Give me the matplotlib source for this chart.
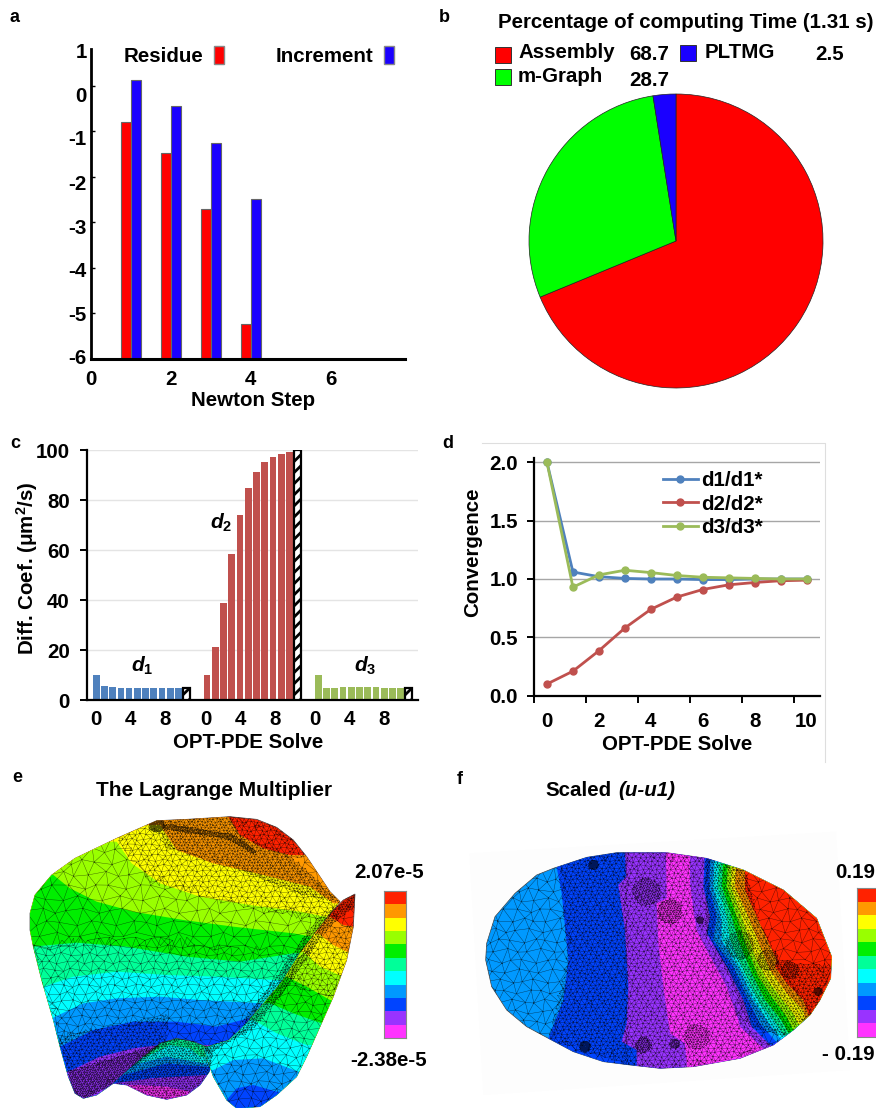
import numpy as np
import matplotlib
matplotlib.use("Agg")
import matplotlib.pyplot as plt
from matplotlib.patches import Polygon, Patch, Rectangle
from matplotlib.path import Path
from matplotlib.colors import ListedColormap
from matplotlib.lines import Line2D
from matplotlib.transforms import ScaledTranslation
import matplotlib.tri as mtri

FS = 14.8
plt.rcParams.update({
    "font.family": ["Liberation Sans", "DejaVu Sans"], "font.weight": "bold", "font.size": FS,
    "axes.labelweight": "bold", "mathtext.fontset": "custom", "axes.unicode_minus": False,
    "mathtext.rm": "Liberation Sans:bold", "mathtext.it": "Liberation Sans:italic:bold",
    "mathtext.bf": "Liberation Sans:bold", "mathtext.default": "rm", "hatch.linewidth": 2.0,
})

# ---------- panel a
newton_steps = [1, 2, 3, 4]
residue = [-0.79, -1.48, -2.71, -5.22]
increment = [0.14, -0.43, -1.26, -2.49]
a_yticks = [-6, -5, -4, -3, -2, -1, 0, 1]
a_xticks = [0, 2, 4, 6]
# ---------- panel b
pie_names = ["Assembly", "m-Graph", "PLTMG"]
pie_values = [68.7, 28.7, 2.5]
pie_colors = ["#ff0000", "#00ff00", "#1a00ff"]
# ---------- panel c
d1_bars = [10, 5.5, 5.1, 5, 5, 5, 5, 5, 5, 5, 5]
d2_bars = [10, 21.3, 38.9, 58.4, 74, 84.7, 91.2, 95.2, 97.2, 98.5, 99.3]
d3_bars = [10, 4.7, 5.0, 5.3, 5.3, 5.1, 5.1, 5.05, 5, 5, 5]
hatched_bars = [5, 100, 5]
c_ticklabels = [0, 4, 8]
# ---------- panel d
solve = list(range(11))
d1_ratio = [2.0, 1.06, 1.02, 1.005, 1.0, 1.0, 0.995, 0.995, 1.0, 1.0, 1.0]
d2_ratio = [0.1, 0.21, 0.385, 0.58, 0.74, 0.845, 0.91, 0.95, 0.97, 0.985, 0.99]
d3_ratio = [2.0, 0.93, 1.035, 1.075, 1.055, 1.03, 1.015, 1.01, 1.005, 1.0, 1.0]
# ---------- panels e, f: the colour scale
scale_colors = ["#ff2200", "#ff9900", "#ffff00", "#99ff00", "#00ee00", "#00ff99",
                "#00ffff", "#0099ff", "#0044ff", "#9933ff", "#ff33ff"]

W, H = 876, 1108
fig = plt.figure(figsize=(W / 100, H / 100), dpi=100, facecolor="white")


def box(l, t, r, b, **kw):
    return fig.add_axes([l / W, 1 - b / H, (r - l) / W, (b - t) / H], **kw)


ov = fig.add_axes([0, 0, 1, 1], zorder=5)
ov.set_xlim(0, W)
ov.set_ylim(H, 0)
ov.axis("off")
ov.patch.set_alpha(0)
ov.set_autoscale_on(False)
PX = ov.transData


def put_label(axis, text, cx, cy, rotation=0):
    if rotation:
        axis.set_label_text(text, rotation=rotation, ha="center", va="center", fontsize=FS)
    else:
        axis.set_label_text(text, ha="center", va="center", fontsize=FS)
    axis.set_label_coords(cx, cy, transform=PX)


for s, x, y in [("a", 14, 18), ("b", 444, 17), ("c", 15, 444), ("d", 448, 443), ("e", 17, 777), ("f", 460, 779)]:
    ov.text(x, y, s, fontsize=13, ha="center", va="center")

# ---------- a
ax = box(91, 40.5, 405, 359)
ax.set_ylim(-6, 1)
ax.set_xlim(0, 7.86)
ax.patch.set_alpha(0)
ax.bar(np.array(newton_steps) - 0.125, np.array(residue) + 6, 0.25, bottom=-6, color="#ff0000", edgecolor="#666666", lw=0.8)
ax.bar(np.array(newton_steps) + 0.125, np.array(increment) + 6, 0.25, bottom=-6, color="#1a00ff", edgecolor="#666666", lw=0.8)
for s in ["top", "right"]:
    ax.spines[s].set_visible(False)
ax.spines["left"].set_linewidth(2)
ax.spines["left"].set_bounds(-6, 0.82)
ax.spines["bottom"].set_linewidth(2.2)
ax.set_xticks(a_xticks)
ax.set_yticks(a_yticks)
ax.tick_params(axis="y", direction="in", length=3, width=1, labelsize=FS, pad=3)
ax.tick_params(axis="x", length=0, labelsize=FS, pad=8)
ax.yaxis.get_major_ticks()[-1].tick1line.set_visible(False)
for lab, dy in zip(ax.get_yticklabels(), [-2, 0, 2, 4, 6, 6, 8, 10.5]):
    lab.set_transform(lab.get_transform() + ScaledTranslation(0, -dy / 100, fig.dpi_scale_trans))
put_label(ax.xaxis, "Newton Step", 253, 400)
ax.legend(handles=[Patch(fc="#ff0000", ec="#888888", label="Residue"), Patch(fc="#1a00ff", ec="#888888", label="Increment")],
          ncol=2, markerfirst=False, frameon=False, fontsize=FS, handlelength=0.5, handleheight=1.0,
          handletextpad=0.5, columnspacing=2.5, loc="center left", bbox_to_anchor=(124, 56), bbox_transform=PX,
          borderpad=0, borderaxespad=0)

# ---------- b
ax = box(529, 94, 823, 388)
ax.pie(pie_values, colors=pie_colors, startangle=90, counterclock=False, radius=1,
       wedgeprops=dict(edgecolor="#222222", linewidth=0.5))
ax.set_xlim(-1, 1)
ax.set_ylim(-1, 1)
ov.text(498, 23, "Percentage of computing Time (1.31 s)", fontsize=FS, va="center")
b_pos = [(495, 47, 518, 52, 629, 55), (495, 69, 518, 77, 629, 80), (680, 45, 705, 53, 815, 55)]
for name, val, col, (bx, by, tx, ty, vx, vy) in zip(pie_names, pie_values, pie_colors, b_pos):
    ov.add_patch(Rectangle((bx, by), 16, 15.5, fc=col, ec="#333333", lw=0.7))
    ov.text(tx, ty, name, fontsize=FS, va="center")
    ov.text(vx, vy, f"{val}", fontsize=FS, va="center")

# ---------- c
ax = box(87, 450, 418, 700)
unit = 8.23
ax.set_xlim((87 - 96.2) / unit, (418 - 96.2) / unit)
ax.set_ylim(0, 100)
ax.patch.set_alpha(0)
starts = [0, 13.47, 27]
tick_starts = [-0.06, 13.3, 26.6]
cols = ["#4f81bd", "#c0504d", "#9bbb59"]
ticks, labels = [], []
for st, ts, vals, hv, col in zip(starts, tick_starts, [d1_bars, d2_bars, d3_bars], hatched_bars, cols):
    ax.bar(st + np.arange(len(vals)), vals, 0.82, color=col, zorder=2)
    ax.bar(st + len(vals) - 0.02, hv, 0.84, color="white", edgecolor="black", hatch="///", lw=1.6, zorder=3)
    ticks += [ts + v * 1.048 for v in c_ticklabels]
    labels += [str(v) for v in c_ticklabels]
ax.set_xticks(ticks, labels)
ax.set_yticks(range(0, 101, 20))
ax.grid(axis="y", color="#e4e4e4", lw=1)
ax.set_axisbelow(True)
for s in ["top", "right"]:
    ax.spines[s].set_visible(False)
ax.spines["left"].set_linewidth(1.6)
ax.spines["bottom"].set_linewidth(1.6)
ax.tick_params(axis="x", length=0, labelsize=FS, pad=7)
ax.tick_params(axis="y", length=5, width=1.4, labelsize=FS, pad=7.5)
put_label(ax.xaxis, "OPT-PDE Solve", 248, 743)
put_label(ax.yaxis, "Diff. Coef. (μm$^{2}$/s)", 27, 568, rotation=90)
for s, x, y in [("1", 142, 666), ("2", 221, 523), ("3", 365, 666)]:
    ov.text(x, y, "$\\mathit{d}_{\\mathit{" + s + "}}$", fontsize=15, ha="center", va="center")

# ---------- d
fig.add_artist(Line2D([482 / W, 825 / W, 825 / W], [1 - 443 / H, 1 - 443 / H, 1 - 762 / H], color="#dedede", lw=0.8))
ax = box(534, 462.3 - 0.04 * 116.7, 819.5, 695.7)
ax.set_xlim(-0.5, 10.5)
ax.set_ylim(0, 2.04)
ax.patch.set_alpha(0)
for vals, col, name in zip([d1_ratio, d2_ratio, d3_ratio], cols, ["d1/d1*", "d2/d2*", "d3/d3*"]):
    ax.plot(solve, vals, color=col, lw=2, marker="o", ms=5, label=name, zorder=3, clip_on=False)
ax.set_yticks([0, 0.5, 1, 1.5, 2], ["0.0", "0.5", "1.0", "1.5", "2.0"])
ax.set_xticks(np.arange(-0.5, 10, 2))
ax.set_xticklabels([])
ax.set_xticks(solve[::2], [str(v) for v in solve[::2]], minor=True)
ax.tick_params(axis="x", which="major", length=5, width=1.4)
ax.tick_params(axis="x", which="minor", length=0, labelsize=FS, pad=12)
ax.tick_params(axis="y", length=5, width=1.4, labelsize=FS, pad=6.5)
ax.grid(axis="y", color="#a6a6a6", lw=1)
ax.set_axisbelow(True)
for s in ["top", "right"]:
    ax.spines[s].set_visible(False)
ax.spines["left"].set_linewidth(1.6)
ax.spines["bottom"].set_linewidth(1.6)
put_label(ax.xaxis, "OPT-PDE Solve", 677, 745)
put_label(ax.yaxis, "Convergence", 473, 552, rotation=90)
ax.legend(frameon=False, fontsize=FS, loc="center left", bbox_to_anchor=(663, 504), bbox_transform=PX,
          handlelength=1.7, handletextpad=0.15, labelspacing=0.22, borderpad=0, borderaxespad=0)


def conv(pts, ox):
    return np.asarray(pts, float) / 3 + [ox, 770]


def paint(outline, bounds, colors, ox, direction):
    out = Polygon(conv(outline, ox), closed=True, fc=colors[0], ec="#444444", lw=0.5, zorder=1)
    ov.add_patch(out)
    far = 5000
    for b, c in zip(bounds, colors[1:]):
        if direction == "down":
            poly = [(-far, b[0][1])] + list(b) + [(far, b[-1][1]), (far, far), (-far, far)]
        else:
            poly = [(b[0][0], -far)] + list(b) + [(b[-1][0], far), (far, far), (far, -far)]
        p = Polygon(conv(poly, ox), closed=True, fc=c, ec="none", zorder=1)
        ov.add_patch(p)
        p.set_clip_path(out)
    return out


def mesh(outline, zones, base_h, ox, clip, zorder=2):
    o = np.asarray(outline, float)
    x0, y0 = o.min(0) - 10
    x1, y1 = o.max(0) + 10
    taken = []
    for zone, h in list(zones) + [(None, base_h)]:
        ny = int((y1 - y0) / (0.87 * h)) + 2
        nx = int((x1 - x0) / h) + 2
        jj, ii = np.mgrid[0:ny, 0:nx]
        px = x0 + h * (ii + 0.5 * (jj % 2)) + 0.2 * h * np.sin(1.7 * ii + 2.3 * jj)
        py = y0 + 0.87 * h * jj + 0.2 * h * np.sin(2.1 * ii - 1.3 * jj + 1)
        idx = ii + jj * nx
        a, b, c, d = idx[:-1, :-1], idx[:-1, 1:], idx[1:, :-1], idx[1:, 1:]
        odd = (jj[:-1, :-1] % 2).astype(bool)
        t1 = np.stack([a, b, np.where(odd, d, c)], -1).reshape(-1, 3)
        t2 = np.stack([np.where(odd, a, b), d, c], -1).reshape(-1, 3)
        tris = np.vstack([t1, t2])
        pts = np.column_stack([px.ravel(), py.ravel()])
        cen = pts[tris].mean(1)
        keep = np.ones(len(tris), bool) if zone is None else zone.contains_points(cen)
        for t in taken:
            keep &= ~t.contains_points(cen)
        if zone is not None:
            taken.append(zone)
        if keep.any():
            q = conv(pts, ox)
            tr = mtri.Triangulation(q[:, 0], q[:, 1], tris[keep])
            for ln in ov.triplot(tr, color="black", lw=0.3, alpha=0.65, zorder=zorder):
                ln.set_clip_path(clip)


def P(*p):
    return Path(list(p) + [p[0]])


def C(x, y, r):
    return Path.circle((x, y), r)


def scale_bar(l, t, r, b):
    cb = box(l, t, r, b, zorder=3)
    cb.imshow(np.arange(11).reshape(-1, 1), cmap=ListedColormap(scale_colors), aspect="auto")
    cb.set_xticks([])
    cb.set_yticks([])
    for s in cb.spines.values():
        s.set_color("#888888")


# e -------------------------------------------------------------
main = [(90, 430), (105, 375), (155, 315), (225, 265), (350, 205), (470, 152), (560, 148), (690, 140), (770, 148),
        (830, 172), (880, 210), (920, 260), (960, 320), (990, 365), (1020, 395), (1000, 420), (960, 480), (900, 550),
        (850, 630), (790, 700), (740, 760), (680, 815), (630, 830), (580, 825), (530, 815), (480, 830), (430, 870),
        (390, 895), (340, 940), (290, 975), (250, 985), (225, 970), (205, 920), (180, 830), (160, 750), (125, 630),
        (100, 530), (90, 480)]
main_b = [
    [(685, 140), (720, 195), (790, 235), (870, 255), (925, 255)],
    [(480, 165), (530, 240), (640, 280), (770, 310), (930, 350), (1000, 400)],
    [(350, 215), (395, 280), (480, 340), (600, 380), (750, 405), (900, 425), (975, 440)],
    [(160, 315), (210, 355), (290, 395), (400, 425), (550, 450), (700, 470), (880, 490), (935, 500)],
    [(95, 530), (230, 518), (380, 530), (560, 560), (720, 575), (880, 550)],
    [(130, 650), (220, 620), (350, 605), (500, 615), (650, 620), (830, 630)],
    [(155, 745), (250, 700), (350, 685), (480, 680), (600, 690), (790, 700)],
    [(180, 830), (280, 780), (400, 755), (530, 755), (650, 770), (745, 745)],
    [(205, 905), (300, 860), (400, 835), (480, 825)],
]
clip = paint(main, main_b, scale_colors, 0, "down")
mesh(main, [
    (C(470, 165, 22), 4),
    (P((470, 160), (560, 172), (700, 195), (770, 245), (760, 250), (680, 205), (550, 185), (480, 175)), 5),
    (P((1000, 420), (1030, 395), (960, 500), (850, 640), (740, 770), (725, 760), (830, 620), (950, 450)), 9),
    (P((470, 150), (690, 135), (720, 200), (870, 260), (1020, 395), (900, 370), (700, 290), (500, 230)), 10),
    (P((690, 135), (830, 172), (925, 260), (870, 260), (720, 200)), 15),
    (P((350, 205), (470, 150), (500, 230), (700, 290), (1000, 400), (960, 450), (700, 400), (450, 330)), 18),
    (P((205, 905), (480, 825), (340, 940), (250, 990), (220, 975)), 6),
    (P((175, 800), (500, 740), (500, 830), (205, 915)), 12),
    (P((95, 530), (400, 500), (900, 560), (700, 820), (175, 800)), 27),
], 42, 0, clip)

fold = [(340, 940), (390, 895), (430, 860), (480, 820), (530, 805), (580, 815), (620, 830), (640, 850), (628, 905), (600, 945),
        (560, 975), (500, 988), (440, 975), (380, 945)]
fold_b = [
    [(440, 860), (510, 825), (570, 835), (600, 860)],
    [(400, 885), (500, 860), (610, 880)],
    [(370, 915), (500, 880), (615, 890)],
    [(340, 940), (450, 925), (620, 915)],
    [(410, 945), (500, 950), (570, 965)],
]
clip = paint(fold, fold_b, scale_colors[5:], 0, "down")
mesh(fold, [], 8, 0, clip, zorder=4)

wing = [(1065, 372), (1060, 470), (1040, 570), (1000, 680), (960, 770), (920, 860), (890, 920), (830, 975), (780, 1010),
        (710, 1015), (680, 990), (640, 920), (610, 835), (640, 825), (690, 810), (740, 760), (800, 690), (850, 630),
        (900, 550), (960, 470), (1000, 420), (1030, 390)]
wing_b = [
    [(990, 440), (1030, 465), (1062, 470)],
    [(955, 490), (1000, 525), (1040, 545)],
    [(910, 545), (960, 590), (1030, 620)],
    [(860, 620), (920, 650), (990, 690)],
    [(810, 700), (880, 730), (965, 760)],
    [(760, 750), (830, 790), (920, 825)],
    [(640, 900), (700, 870), (790, 865), (895, 905)],
    [(680, 990), (710, 955), (760, 945), (830, 965)],
]
clip = paint(wing, wing_b, scale_colors[:9], 0, "down")
mesh(wing, [
    (P((1065, 372), (1000, 420), (850, 630), (740, 760), (610, 835), (625, 850), (760, 775), (870, 640), (975, 480), (1060, 410)), 8),
    (P((960, 470), (1060, 470), (1040, 570), (1000, 680), (880, 650)), 18),
], 30, 0, clip, zorder=4)

ov.text(214, 791, "The Lagrange Multiplier", fontsize=15, ha="center", va="center")
scale_bar(384, 891, 406, 1038)
ov.text(389, 872, "2.07e-5", fontsize=FS, ha="center", va="center")
ov.text(389, 1061, "-2.38e-5", fontsize=FS, ha="center", va="center")

# f -------------------------------------------------------------
ov.add_patch(Polygon(conv([(88, 250), (1188, 185), (1230, 900), (130, 975)], 440), fc="#fdfdfd", ec="none", zorder=0))
ell = [(140, 520), (165, 440), (225, 370), (290, 315), (340, 295), (440, 262), (530, 248), (680, 248), (800, 265),
       (910, 300), (1030, 360), (1130, 445), (1175, 560), (1172, 625), (1140, 690), (1110, 735), (1060, 780), (1000, 825),
       (900, 865), (760, 890), (660, 895), (570, 885), (490, 875), (400, 845), (325, 805), (260, 770), (200, 720),
       (155, 650), (137, 570)]
ell_b = [
    [(340, 240), (365, 370), (385, 570), (370, 690), (325, 805), (325, 900)],
    [(555, 240), (558, 320), (535, 345), (555, 480), (565, 650), (560, 760), (545, 815), (590, 840), (590, 900)],
    [(678, 240), (680, 385), (650, 400), (655, 520), (670, 650), (690, 790), (735, 820), (742, 900)],
    [(750, 240), (750, 340), (760, 420), (770, 480), (800, 540), (860, 650), (895, 750), (900, 770), (975, 840)],
    [(795, 240), (790, 350), (810, 440), (800, 490), (860, 590), (910, 690), (935, 770), (1005, 840)],
    [(812, 240), (808, 350), (830, 440), (820, 510), (880, 590), (925, 690), (960, 760), (1030, 840)],
    [(825, 240), (820, 350), (845, 450), (845, 510), (900, 600), (940, 690), (980, 750), (1040, 830)],
    [(838, 240), (833, 350), (860, 440), (870, 510), (920, 620), (960, 700), (1000, 750), (1050, 820)],
    [(850, 240), (846, 350), (875, 440), (895, 510), (935, 610), (975, 690), (1020, 745), (1058, 810)],
    [(865, 240), (860, 350), (890, 440), (920, 530), (955, 620), (995, 680), (1040, 740), (1070, 800)],
    [(875, 240), (873, 350), (905, 440), (945, 560), (975, 620), (1020, 680), (1060, 730), (1085, 785)],
    [(890, 240), (885, 350), (925, 440), (965, 540), (990, 600), (1040, 670), (1090, 720), (1100, 770)],
    [(915, 240), (915, 360), (950, 440), (1010, 570), (1005, 590), (1040, 640), (1090, 690), (1115, 760)],
]
f_colors = ["#0099ff", "#0044ff", "#9933ff", "#ff33ff", "#9933ff", "#0044ff", "#0099ff", "#00ffff", "#00ff99",
            "#00ee00", "#99ff00", "#ffff00", "#ff9900", "#ff2200"]
clip = paint(ell, ell_b, f_colors, 440, "right")
mesh(ell, [
    (C(460, 285, 14), 3.5), (C(435, 830, 16), 3.5), (C(780, 450, 10), 3.5), (C(1135, 665, 12), 3.5),
    (C(620, 365, 40), 7), (C(690, 425, 35), 7), (C(610, 825, 22), 6), (C(705, 822, 14), 5), (C(770, 800, 35), 8),
    (C(900, 525, 40), 6), (C(985, 570, 30), 6), (C(1050, 600, 25), 6),
    (P((800, 260), (915, 300), (950, 440), (1010, 570), (1115, 735), (1040, 800), (930, 770), (860, 600), (800, 490)), 9),
    (P((1000, 570), (1175, 590), (1120, 735), (1040, 650)), 12),
    (P((360, 270), (560, 240), (560, 880), (330, 810), (385, 570)), 13),
    (P((555, 240), (800, 260), (800, 500), (930, 780), (1000, 830), (740, 900), (545, 890)), 14),
], 35, 440, clip)

ov.text(545, 791, "Scaled", fontsize=FS, va="center")
ov.text(618, 791, "(u-u1)", fontsize=FS, va="center", style="italic")
scale_bar(857, 888, 900, 1037)
ov.text(875, 872, "0.19", fontsize=FS, va="center", ha="right")
ov.text(875, 1054, "- 0.19", fontsize=FS, va="center", ha="right")

fig.savefig("out.png", dpi=100, facecolor="white")
